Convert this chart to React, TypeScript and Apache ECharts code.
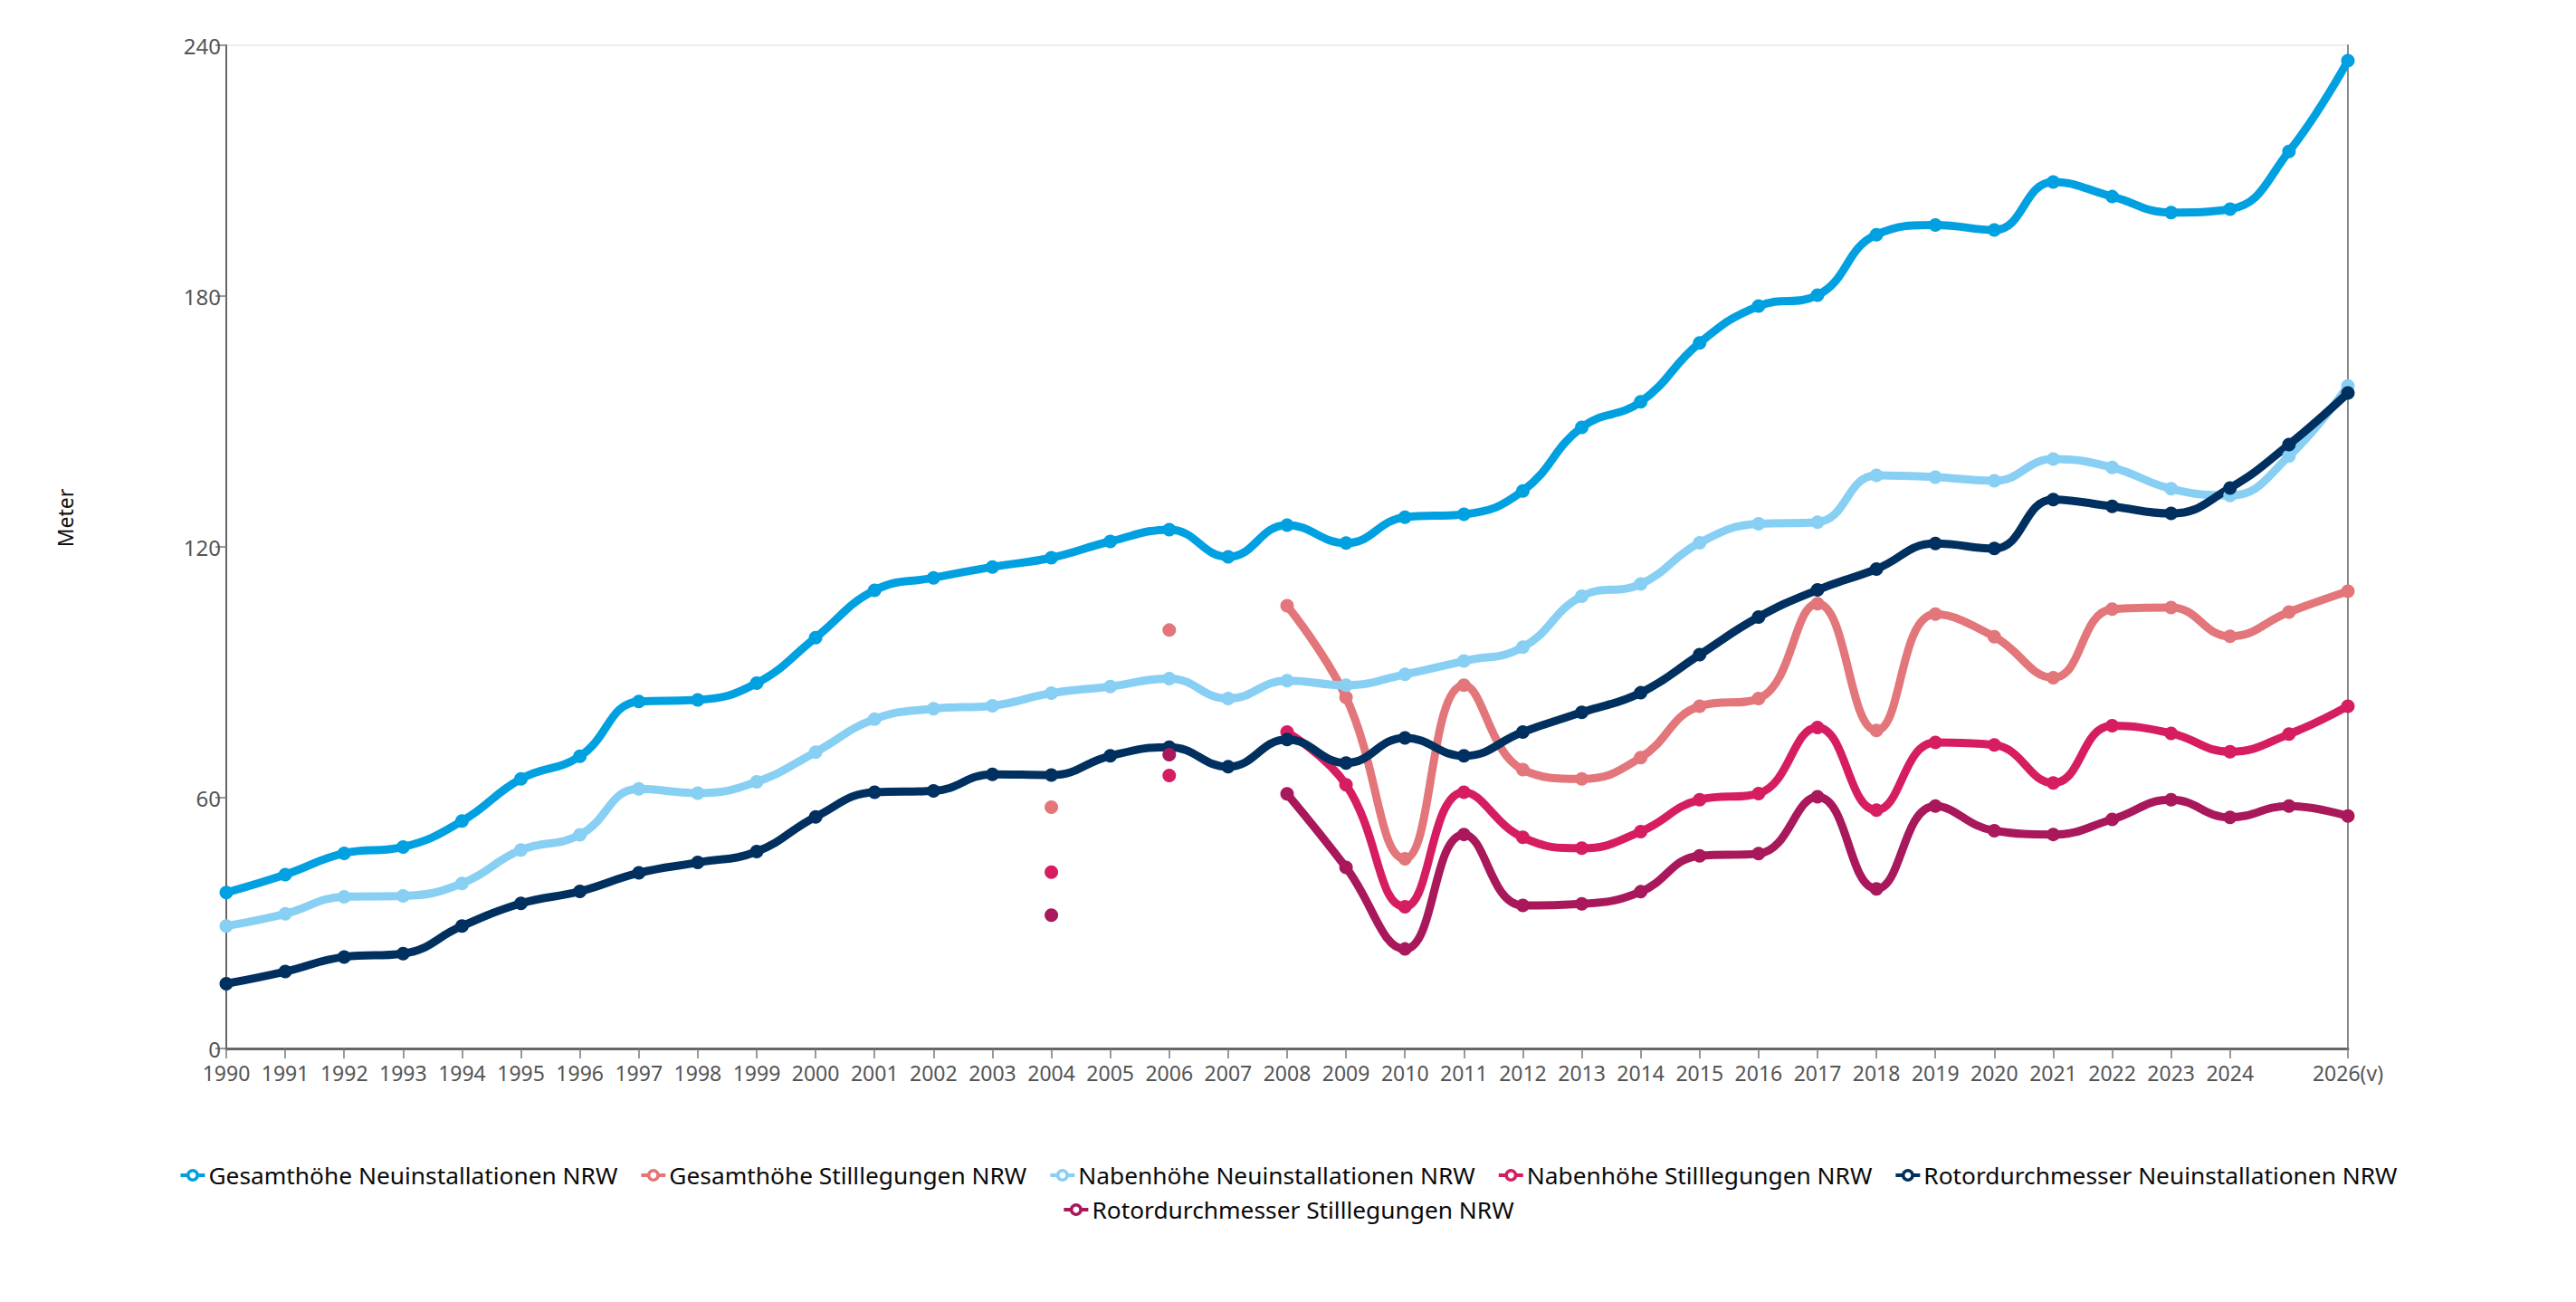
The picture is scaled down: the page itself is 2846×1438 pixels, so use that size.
import React, { useEffect, useRef } from "react";
import * as echarts from "echarts";

const years = [
  "1990", "1991", "1992", "1993", "1994", "1995", "1996", "1997", "1998", "1999",
  "2000", "2001", "2002", "2003", "2004", "2005", "2006", "2007", "2008", "2009",
  "2010", "2011", "2012", "2013", "2014", "2015", "2016", "2017", "2018", "2019",
  "2020", "2021", "2022", "2023", "2024", "2025", "2026(v)",
];

const yTicks = [0, 60, 120, 180, 240];

const N = null;

const gesamtNeu = [
  37.3, 41.6, 46.7, 48.2, 54.4, 64.5, 69.9, 83.0, 83.4, 87.4,
  98.3, 109.6, 112.6, 115.2, 117.4, 121.3, 124.1, 117.6, 125.2, 120.9,
  127.1, 127.8, 133.4, 148.6, 154.7, 168.8, 177.6, 180.2, 194.7, 197.0,
  195.8, 207.3, 203.8, 200.0, 200.8, 214.6, 236.3,
];

const gesamtStill = [
  N, N, N, N, N, N, N, N, N, N,
  N, N, N, N, 57.7, N, 100.1, N, 105.9, 84.0,
  45.4, 86.9, 66.7, 64.5, 69.6, 81.9, 83.7, 106.4, 76.1, 103.9,
  98.5, 88.7, 105.1, 105.5, 98.6, 104.4, 109.4,
];

const nabenNeu = [
  29.3, 32.2, 36.3, 36.5, 39.5, 47.5, 51.1, 62.1, 61.1, 63.8,
  70.9, 78.8, 81.3, 82.0, 85.0, 86.6, 88.5, 83.7, 88.0, 86.9,
  89.5, 92.7, 96.0, 108.2, 111.1, 121.0, 125.5, 125.9, 137.1, 136.7,
  135.8, 141.0, 139.0, 133.9, 132.3, 141.7, 158.5,
];

const nabenStill = [
  N, N, N, N, N, N, N, N, N, N,
  N, N, N, N, 42.2, N, 65.3, N, 75.7, 63.1,
  33.9, 61.3, 50.5, 47.9, 51.9, 59.5, 61.0, 76.8, 57.0, 73.2,
  72.6, 63.5, 77.2, 75.4, 71.0, 75.2, 81.9,
];

const rotorNeu = [
  15.5, 18.4, 21.9, 22.7, 29.3, 34.7, 37.6, 42.0, 44.5, 47.1,
  55.4, 61.3, 61.6, 65.6, 65.4, 70.0, 72.1, 67.4, 73.9, 68.3,
  74.3, 70.0, 75.7, 80.4, 85.1, 94.2, 103.2, 109.7, 114.7, 120.8,
  119.6, 131.3, 129.7, 128.0, 134.1, 144.5, 156.8,
];

const rotorStill = [
  N, N, N, N, N, N, N, N, N, N,
  N, N, N, N, 31.9, N, 70.3, N, 60.9, 43.3,
  23.8, 51.2, 34.2, 34.6, 37.5, 46.1, 46.6, 60.2, 38.2, 58.0,
  52.1, 51.2, 54.8, 59.5, 55.3, 58.0, 55.6,
];

const seriesNames = [
  "Gesamthöhe Neuinstallationen NRW",
  "Gesamthöhe Stilllegungen NRW",
  "Nabenhöhe Neuinstallationen NRW",
  "Nabenhöhe Stilllegungen NRW",
  "Rotordurchmesser Neuinstallationen NRW",
  "Rotordurchmesser Stilllegungen NRW",
];

const seriesColors = ["#00a0e1", "#e3767a", "#88cff4", "#d71d62", "#00305f", "#a8185a"];

const seriesData = [gesamtNeu, gesamtStill, nabenNeu, nabenStill, rotorNeu, rotorStill];

const FONT = "'Noto Sans', 'Open Sans', sans-serif";

export default function App() {
  const ref = useRef<HTMLDivElement>(null);

  useEffect(() => {
    if (!ref.current) return;
    const chart = echarts.init(ref.current, null, { renderer: "svg" });
    const hide2025 = (i: number) => years[i] !== "2025";

    const legendItems = seriesNames.map((name, i) => ({
      name,
      itemStyle: { color: "#fff", borderColor: seriesColors[i], borderWidth: 3.5 },
      lineStyle: { color: seriesColors[i], width: 4 },
    }));

    const legendCommon = {
      left: "center",
      orient: "horizontal" as const,
      itemWidth: 27,
      itemHeight: 13,
      itemGap: 24,
      textStyle: { fontSize: 26.3, color: "#0a0a0a", fontFamily: FONT, padding: [0, 0, 0, -1] },
      selectedMode: false,
    };

    chart.setOption({
      animation: false,
      backgroundColor: "#fff",
      textStyle: { fontFamily: FONT },
      grid: { left: 250, right: 252, top: 50, bottom: 280, containLabel: false },
      legend: [
        { ...legendCommon, top: 1280, data: legendItems.slice(0, 5) },
        { ...legendCommon, top: 1318, data: legendItems.slice(5) },
      ],
      xAxis: {
        type: "category",
        data: years,
        boundaryGap: false,
        axisLine: { show: true, lineStyle: { color: "#666", width: 3 } },
        axisTick: { show: true, interval: hide2025, length: 11, lineStyle: { color: "#777", width: 1.5 } },
        axisLabel: {
          interval: hide2025,
          fontSize: 23,
          lineHeight: 26,
          color: "#555",
          margin: 14,
          fontFamily: FONT,
        },
        splitLine: { show: false },
      },
      yAxis: [
        {
          type: "value",
          min: yTicks[0],
          max: yTicks[yTicks.length - 1],
          interval: 60,
          axisLine: { show: true, lineStyle: { color: "#666", width: 2 } },
          axisTick: { show: true, length: 12, lineStyle: { color: "#777", width: 1.5 } },
          axisLabel: { fontSize: 24, lineHeight: 22, color: "#555", margin: 6, fontFamily: FONT },
          splitLine: {
            show: true,
            lineStyle: { color: ["rgba(0,0,0,0)", "rgba(0,0,0,0)", "rgba(0,0,0,0)", "rgba(0,0,0,0)", "#eeeeee"], width: 2 },
          },
        },
        {
          type: "value",
          position: "right",
          min: yTicks[0],
          max: yTicks[yTicks.length - 1],
          interval: 60,
          axisLine: { show: true, lineStyle: { color: "#888", width: 2 } },
          axisTick: { show: false },
          axisLabel: { show: false },
          splitLine: { show: false },
        },
      ],
      graphic: [
        {
          type: "text",
          x: 72,
          y: 572,
          rotation: Math.PI / 2,
          style: {
            text: "Meter",
            fontSize: 23,
            fill: "#111",
            fontFamily: FONT,
            textAlign: "center",
            textVerticalAlign: "middle",
          },
        },
      ],
      series: seriesNames.map((name, i) => ({
        name,
        type: "line",
        data: seriesData[i],
        smooth: 0.45,
        connectNulls: false,
        symbol: "circle",
        symbolSize: 15,
        showSymbol: true,
        color: seriesColors[i],
        lineStyle: { width: 9, color: seriesColors[i] },
        itemStyle: { color: seriesColors[i] },
        yAxisIndex: 0,
      })),
    });

    return () => chart.dispose();
  }, []);

  return (
    <div
      ref={ref}
      style={{ position: "absolute", left: 0, top: 0, width: 2846, height: 1438, background: "#fff" }}
    />
  );
}
